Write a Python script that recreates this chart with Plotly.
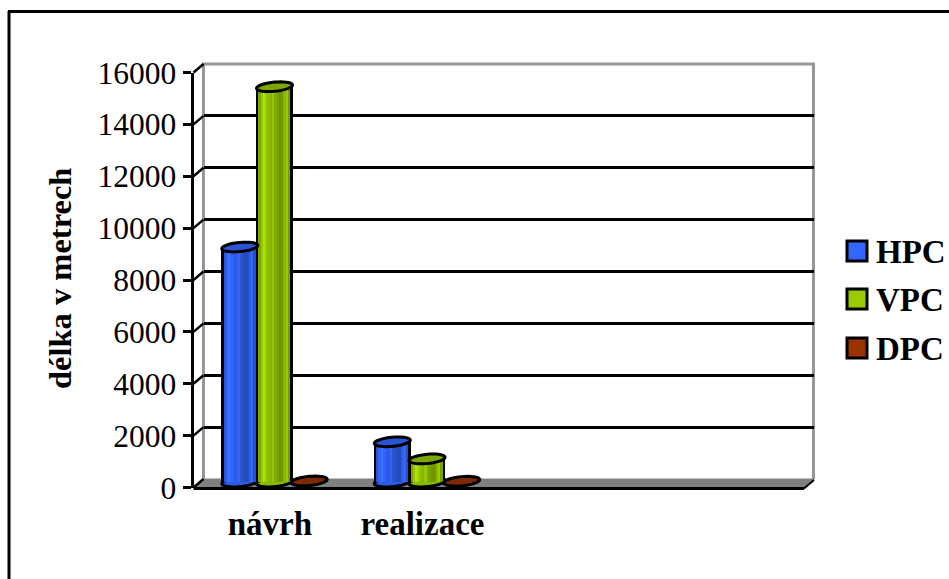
import math
import plotly.graph_objects as go

categories = ["návrh", "realizace"]
series_names = ["HPC", "VPC", "DPC"]
hpc_values = [9060, 1550]
vpc_values = [15240, 890]
dpc_values = [40, 30]
y_ticks = [0, 2000, 4000, 6000, 8000, 10000, 12000, 14000, 16000]
y_title = "délka v metrech"

W, H = 949, 579
FONT = "Liberation Serif"
base_colors = {"HPC": (51, 102, 255), "VPC": (153, 204, 0), "DPC": (153, 51, 0)}
shade = [0.82, 0.98, 1.12, 1.0, 0.92, 0.88, 0.98, 0.84, 0.78, 0.74, 0.74, 0.9, 1.0, 0.78]
EDGE = 2.5     # px of black outline
BAR_W = 37.0   # px
STEP = 34.7    # px between bars of one group
CAT = 152.5    # px per category

def fx(a, b): return [a / W, b / W]
def fy(top, bottom): return [1 - bottom / H, 1 - top / H]
def col(rgb, k): return "rgb(%d,%d,%d)" % tuple(min(255, round(c * k)) for c in rgb)

Y_RANGE = [0, 16000]
X_RANGE = [-0.5, 3.5]
axis_common = dict(showgrid=False, zeroline=False, automargin=False)

fig = go.Figure()

# wall (x/y), front axes (x2/y2), cylinders (x3/y3) are three depths of the same scale
fig.add_trace(go.Scatter(x=[None], y=[None], xaxis="x", yaxis="y", showlegend=False, hoverinfo="skip"))
fig.add_trace(go.Scatter(x=[None], y=[None], xaxis="x2", yaxis="y2", showlegend=False, hoverinfo="skip"))

px_x = 1 / CAT
px_y = 16000 / 415.0
positions = [0, 1]
slots = [-STEP * px_x, 0, STEP * px_x]
all_values = [hpc_values, vpc_values, dpc_values]
shapes = []

def ellipse_path(cx, cy, a=18.0, b=4.6, tilt=0.09):
    pts = []
    for i in range(36):
        t = 2 * math.pi * i / 36
        dx = a * math.cos(t)
        dy = b * math.sin(t) + tilt * a * math.cos(t)
        pts.append((cx + dx * px_x, cy + dy * px_y))
    return "M" + " L".join("%.5f,%.2f" % p for p in pts) + " Z"

for name, vals, slot in zip(series_names, all_values, slots):
    rgb = base_colors[name]
    xs = [p + slot for p in positions]
    n = len(shade)
    inner = (BAR_W - 2 * EDGE) / n
    bar_vals_visible = [v if v > 400 else 0 for v in vals]
    # black outline bar, with shaded strips on top of it
    fig.add_trace(go.Bar(x=xs, y=bar_vals_visible, width=BAR_W * px_x, marker=dict(color="black", line_width=0),
                         xaxis="x3", yaxis="y3", showlegend=False, name=name))
    for i, k in enumerate(shade):
        off = (-BAR_W / 2 + EDGE + i * inner) * px_x
        fig.add_trace(go.Bar(x=xs, y=bar_vals_visible, width=inner * px_x, offset=off,
                             marker=dict(color=col(rgb, k), line_width=0),
                             xaxis="x3", yaxis="y3", showlegend=False, name=name, hoverinfo="skip"))
    for x0, v in zip(xs, vals):
        if v > 400:
            shapes.append(dict(type="path", xref="x3", yref="y3", path=ellipse_path(x0, 0),
                               fillcolor=col(rgb, 0.9), line=dict(color="black", width=3), layer="between"))
        shapes.append(dict(type="path", xref="x3", yref="y3", path=ellipse_path(x0, v),
                           fillcolor=col(rgb, 0.82), line=dict(color="black", width=3), layer="above"))

L, R, T, B = 193.5, 804, 72.5, 487.5   # front plane
DX, DY = 10, -8.5                      # depth of the wall

# floor and frame
wall_l, wall_r, wall_b = L + DX, R + DX, B + DY
wall_t = T + DY
floor = []
floor.append(dict(type="path", xref="paper", yref="paper", layer="below",
                  path="M%.4f,%.4f L%.4f,%.4f L%.4f,%.4f L%.4f,%.4f Z" % (
                      wall_l / W, 1 - wall_b / H, wall_r / W, 1 - wall_b / H,
                      R / W, 1 - B / H, L / W, 1 - B / H),
                  fillcolor="#808080", line=dict(color="#808080", width=1)))
floor.append(dict(type="line", xref="paper", yref="paper", x0=L / W, x1=R / W, y0=1 - (B + 1) / H, y1=1 - (B + 1) / H,
                  line=dict(color="black", width=3), layer="below"))
floor.append(dict(type="line", xref="paper", yref="paper", x0=R / W, x1=wall_r / W, y0=1 - (B + 1) / H, y1=1 - (wall_b + 1) / H,
                  line=dict(color="black", width=2), layer="below"))
# grey wall frame: left, top, right
floor.append(dict(type="path", xref="paper", yref="paper", layer="below",
                  path="M%.4f,%.4f L%.4f,%.4f L%.4f,%.4f L%.4f,%.4f" % (
                      wall_l / W, 1 - wall_b / H, wall_l / W, 1 - wall_t / H,
                      (wall_r - 0.5) / W, 1 - wall_t / H, (wall_r - 0.5) / W, 1 - wall_b / H),
                  line=dict(color="#969696", width=3)))
for v in y_ticks:
    yy = B - (B - T) * v / 16000
    floor.append(dict(type="line", xref="paper", yref="paper", x0=L / W, x1=wall_l / W,
                      y0=1 - yy / H, y1=1 - (yy + DY) / H, line=dict(color="black", width=2.5), layer="below"))
# page border: left and top only
floor.append(dict(type="line", xref="paper", yref="paper", x0=9 / W, x1=9 / W, y0=0, y1=1 - 11 / H,
                  line=dict(color="black", width=3)))
floor.append(dict(type="line", xref="paper", yref="paper", x0=8 / W, x1=1, y0=1 - 11.5 / H, y1=1 - 11.5 / H,
                  line=dict(color="black", width=3)))

# legend
annotations = []
for name, cy in zip(series_names, [251, 299, 348]):
    floor.append(dict(type="rect", xref="paper", yref="paper", x0=847 / W, x1=867 / W, y0=1 - (cy + 10) / H, y1=1 - (cy - 10) / H,
                      fillcolor=col(base_colors[name], 1), line=dict(color="black", width=3)))
    annotations.append(dict(text="<b>%s</b>" % name, x=874 / W, y=1 - (cy + 1) / H, xref="paper", yref="paper",
                            showarrow=False, xanchor="left", yanchor="middle", xshift=0,
                            font=dict(family=FONT, size=33, color="black")))
annotations.append(dict(text="<b>%s</b>" % y_title, x=60 / W, y=1 - 279 / H, xref="paper", yref="paper", showarrow=False,
                        textangle=-90, xanchor="center", yanchor="middle", font=dict(family=FONT, size=32.5, color="black")))

Y3_FLOOR = -600   # room under zero so the cylinders' round bases are not clipped
y3_bottom = 482 - Y3_FLOOR * 415.0 / 16000

fig.update_layout(
    template="none",
    width=W, height=H, margin=dict(l=0, r=0, t=0, b=0, pad=0), autosize=False,
    paper_bgcolor="white", plot_bgcolor="rgba(0,0,0,0)", barmode="overlay", bargap=0,
    showlegend=False, font=dict(family=FONT, color="black"),
    shapes=floor + shapes, annotations=annotations,
    xaxis=dict(domain=fx(L + DX, R + DX), range=X_RANGE, anchor="y", visible=True, showticklabels=False, ticks="",
               showline=False, **axis_common),
    yaxis=dict(domain=fy(T + DY, B + DY), range=Y_RANGE, anchor="x", tickvals=y_ticks[1:-1], showticklabels=False, ticks="",
               showline=False, showgrid=True, gridcolor="black", gridwidth=2.5, zeroline=False, automargin=False),
    xaxis2=dict(domain=fx(L, R), range=X_RANGE, anchor="y2", tickvals=positions, ticktext=["<b>%s</b>" % c for c in categories],
                ticks="outside", ticklen=7, tickcolor="rgba(0,0,0,0)", tickfont=dict(family=FONT, size=33), showline=False, **axis_common),
    yaxis2=dict(domain=fy(T, B), range=Y_RANGE, anchor="x2", tickvals=y_ticks, tickformat="d", ticks="outside", ticklen=8, tickwidth=2.5,
                tickcolor="black", tickfont=dict(family=FONT, size=31.5), showline=True, linecolor="black", linewidth=3, **axis_common),
    xaxis3=dict(domain=fx(198.25, 808.25), range=X_RANGE, anchor="y3", visible=False, **axis_common),
    yaxis3=dict(domain=fy(67, y3_bottom), range=[Y3_FLOOR, 16000], anchor="x3", visible=False, **axis_common),
)

fig.write_html("out.html", config={"displayModeBar": False},
               post_script="document.body.style.margin='0';document.documentElement.style.overflow='hidden';")
